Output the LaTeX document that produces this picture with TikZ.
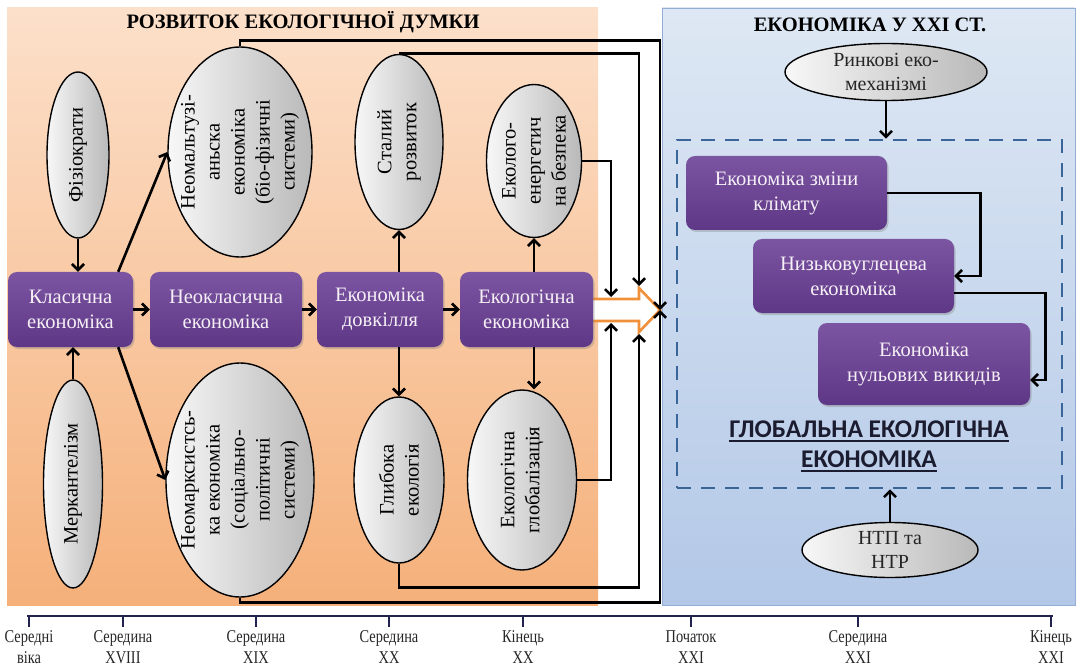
\documentclass[tikz,border=0pt]{standalone}
\usepackage{fontspec}
\setmainfont{Liberation Serif}
\newfontfamily\sansb{Carlito}
\newfontfamily\narrowf[FakeStretch=0.8]{Liberation Serif}
\usetikzlibrary{shapes.geometric, arrows.meta, shadows, calc}
\definecolor{orT}{HTML}{FCE0CA}
\definecolor{orB}{HTML}{F5B07A}
\definecolor{blT}{HTML}{DEE8F4}
\definecolor{blB}{HTML}{B3C8E7}
\definecolor{blE}{HTML}{93AED6}
\definecolor{purT}{HTML}{7B55A2}
\definecolor{purB}{HTML}{5E3886}
\definecolor{boxtext}{HTML}{F6F0F6}
\definecolor{arrOr}{HTML}{F0903A}
\definecolor{dashBl}{HTML}{3A6598}
\definecolor{navy}{HTML}{22224E}
\definecolor{glob}{HTML}{1C1C30}
\begin{document}
\begin{tikzpicture}[x=1pt,y=-1pt,
  boxst/.style={rounded corners=9pt, top color=purT, bottom color=purB, draw=none,
    text=boxtext, align=center, font=\fontsize{20.5}{25}\selectfont, inner sep=2pt,
    drop shadow={opacity=0.35, shadow xshift=1.5pt, shadow yshift=-2pt}},
  ell/.style={ellipse, draw=black, line width=1.4pt, left color=gray!6, right color=gray!55, inner sep=0pt},
  etext/.style={rotate=90, align=center, font=\fontsize{20.5}{25}\selectfont, text=black},
  htext/.style={align=center, font=\fontsize{20}{24}\selectfont, text=black!85},
  conn/.style={line width=2.6pt, -{Straight Barb[length=6pt,width=12pt,line width=2.6pt]}},
  dashbox/.style={draw=dashBl, line width=2.6pt, dash pattern=on 14pt off 10pt, inner sep=0pt},
  tlabel/.style={align=center, font=\narrowf\fontsize{18}{21}\selectfont, text=black!85},
  gltext/.style={font=\sansb\bfseries\fontsize{25.5}{29}\selectfont, text=glob, inner sep=0pt},
  ulst/.style={glob, line width=2pt}
]
\useasboundingbox (0,0) rectangle (1081,668);
% panels
\fill[top color=orT, bottom color=orB] (7,8) rectangle (598,605);
\draw[draw=blE, line width=0.8pt, top color=blT, bottom color=blB] (662,8) rectangle (1075,605);

% titles
\node[font=\bfseries\fontsize{20.5}{24}\selectfont] (t1) at (303,22) {РОЗВИТОК ЕКОЛОГІЧНОЇ ДУМКИ};
\node[font=\bfseries\fontsize{20.5}{24}\selectfont] (t2) at (870,25) {ЕКОНОМІКА У ХХІ СТ.};

% orange hollow arrow
\coordinate (tip) at (660,310);
\coordinate (atop) at (611,297);
\coordinate (abot) at (611,323);
\coordinate (htop) at (639,286);
\coordinate (hbot) at (639,334);
\draw[arrOr, line width=2.6pt, fill=white, line join=miter] (586,299) -- (639,299) -- (639,288) -- (tip) -- (639,332) -- (639,321) -- (586,321) -- cycle;

% main boxes
\node[boxst, minimum width=125, minimum height=75] (klas) at (70.5,309.5) {Класична\\економіка};
\node[boxst, minimum width=152, minimum height=75] (neokl) at (226,309.5) {Неокласична\\економіка};
\node[boxst, minimum width=126, minimum height=75] (dovk) at (380,309.5) {Економіка\\довкілля};
\node[boxst, minimum width=133, minimum height=75] (ekol) at (526.5,309.5) {Екологічна\\економіка};

% ellipses
\node[ell, minimum width=62, minimum height=166] (fiz) at (78,155) {};
\node[etext] (fizT) at (fiz) {Фізіократи};
\node[ell, minimum width=59, minimum height=208] (merk) at (73,484) {};
\node[etext] (merkT) at (merk) {Меркантелізм};
\node[ell, minimum width=144, minimum height=210] (neomalt) at (240,152) {};
\node[etext] (neomaltT) at (neomalt) {Неомальтузі-\\аньска\\економіка\\(біо-фізичні\\системи)};
\node[ell, minimum width=148, minimum height=234] (neomarx) at (240,480) {};
\node[etext] (neomarxT) at (neomarx) {Неомарксистсь-\\ка економіка\\(соціально-\\політичні\\системи)};
\node[ell, minimum width=88, minimum height=175] (stal) at (399,142) {};
\node[etext] (stalT) at (stal) {Сталий\\розвиток};
\node[ell, minimum width=95, minimum height=153] (enbez) at (534,161) {};
\node[etext] (enbezT) at (enbez) {Еколого-\\енергетич\\на безпека};
\node[ell, minimum width=90, minimum height=166] (glyb) at (399,480) {};
\node[etext] (glybT) at (glyb) {Глибока\\екологія};
\node[ell, minimum width=109, minimum height=180] (globz) at (522,480) {};
\node[etext] (globzT) at (globz) {Екологічна\\глобалізація};

% left connectors
\draw[conn] (fiz.south) -- (fiz.south |- klas.north);
\draw[conn] (merk.north) -- (merk.north |- klas.south);
\draw[conn] ($(klas.north east)+(-15,0)$) -- (neomalt.west);
\draw[conn] ($(klas.south east)+(-15,0)$) -- (neomarx.west);
\draw[conn] (klas.east) -- (neokl.west);
\draw[conn] (neokl.east) -- (dovk.west);
\draw[conn] (dovk.east) -- (ekol.west);
\draw[conn] (stal.south |- dovk.north) -- (stal.south);
\draw[conn] (glyb.north |- dovk.south) -- (glyb.north);
\draw[conn] (enbez.south |- ekol.north) -- (enbez.south);
\draw[conn] (enbez.south |- ekol.south) -- (enbez.south |- globz.north);

% connectors into the big arrow
\draw[conn] (enbez.east) -| (atop);
\draw[conn] (stal.north) -| (htop);
\draw[conn] (neomalt.north) -- ++(0,-6) -| (tip);
\draw[conn] (globz.east) -| (abot);
\draw[conn] (glyb.south) -- ++(0,24) -| (hbot);
\draw[conn] (neomarx.south) -- ++(0,5) -| (tip);

% right side
\node[ell, minimum width=202, minimum height=57] (rynk) at (886,72) {};
\node[htext] (rynkT) at (rynk) {Ринкові еко-\\механізмі};
\node[dashbox, minimum width=385, minimum height=348] (dash) at (869.5,314) {};
\node[ell, minimum width=176, minimum height=55] (ntp) at (890,550) {};
\node[htext] (ntpT) at (ntp) {НТП та\\НТР};
\node[boxst, minimum width=201, minimum height=74] (zmin) at (786.5,193) {Економіка зміни\\клімату};
\node[boxst, minimum width=201, minimum height=74] (nyzk) at (853.5,276) {Низьковуглецева\\економіка};
\node[boxst, minimum width=212, minimum height=82] (nul) at (924,364) {Економіка\\нульових викидів};
\node[gltext] (glt1) at (869,429) {ГЛОБАЛЬНА ЕКОЛОГІЧНА};
\node[gltext] (glt2) at (869,459) {ЕКОНОМІКА};
\draw[ulst] ($(glt1.base west)+(0,4)$) -- ($(glt1.base east)+(0,4)$);
\draw[ulst] ($(glt2.base west)+(0,4)$) -- ($(glt2.base east)+(0,4)$);

\draw[conn] (rynk.south) -- (rynk.south |- dash.north);
\draw[conn] (ntp.north) -- (ntp.north |- dash.south);
\draw[conn] (zmin.east) -- ++(93,0) |- (nyzk.east);
\draw[conn] ($(nyzk.east)+(0,17)$) -- ++(91,0) |- ($(nul.east)+(0,16)$);

% timeline
\draw[navy, line width=2.6pt] (27,616) -- (1053,616);
\foreach \x/\a/\b in {29/Середні/віка, 123/Середина/XVIII, 256/Середина/XIX, 389/Середина/XX, 523/Кінець/XX, 691/Початок/XXI, 858/Середина/XXI, 1051/Кінець/XXI}{
  \draw[navy, line width=2.6pt] (\x,616) -- (\x,627);
  \node[tlabel] at (\x,647) {\a\\\b};
}
\end{tikzpicture}
\end{document}
